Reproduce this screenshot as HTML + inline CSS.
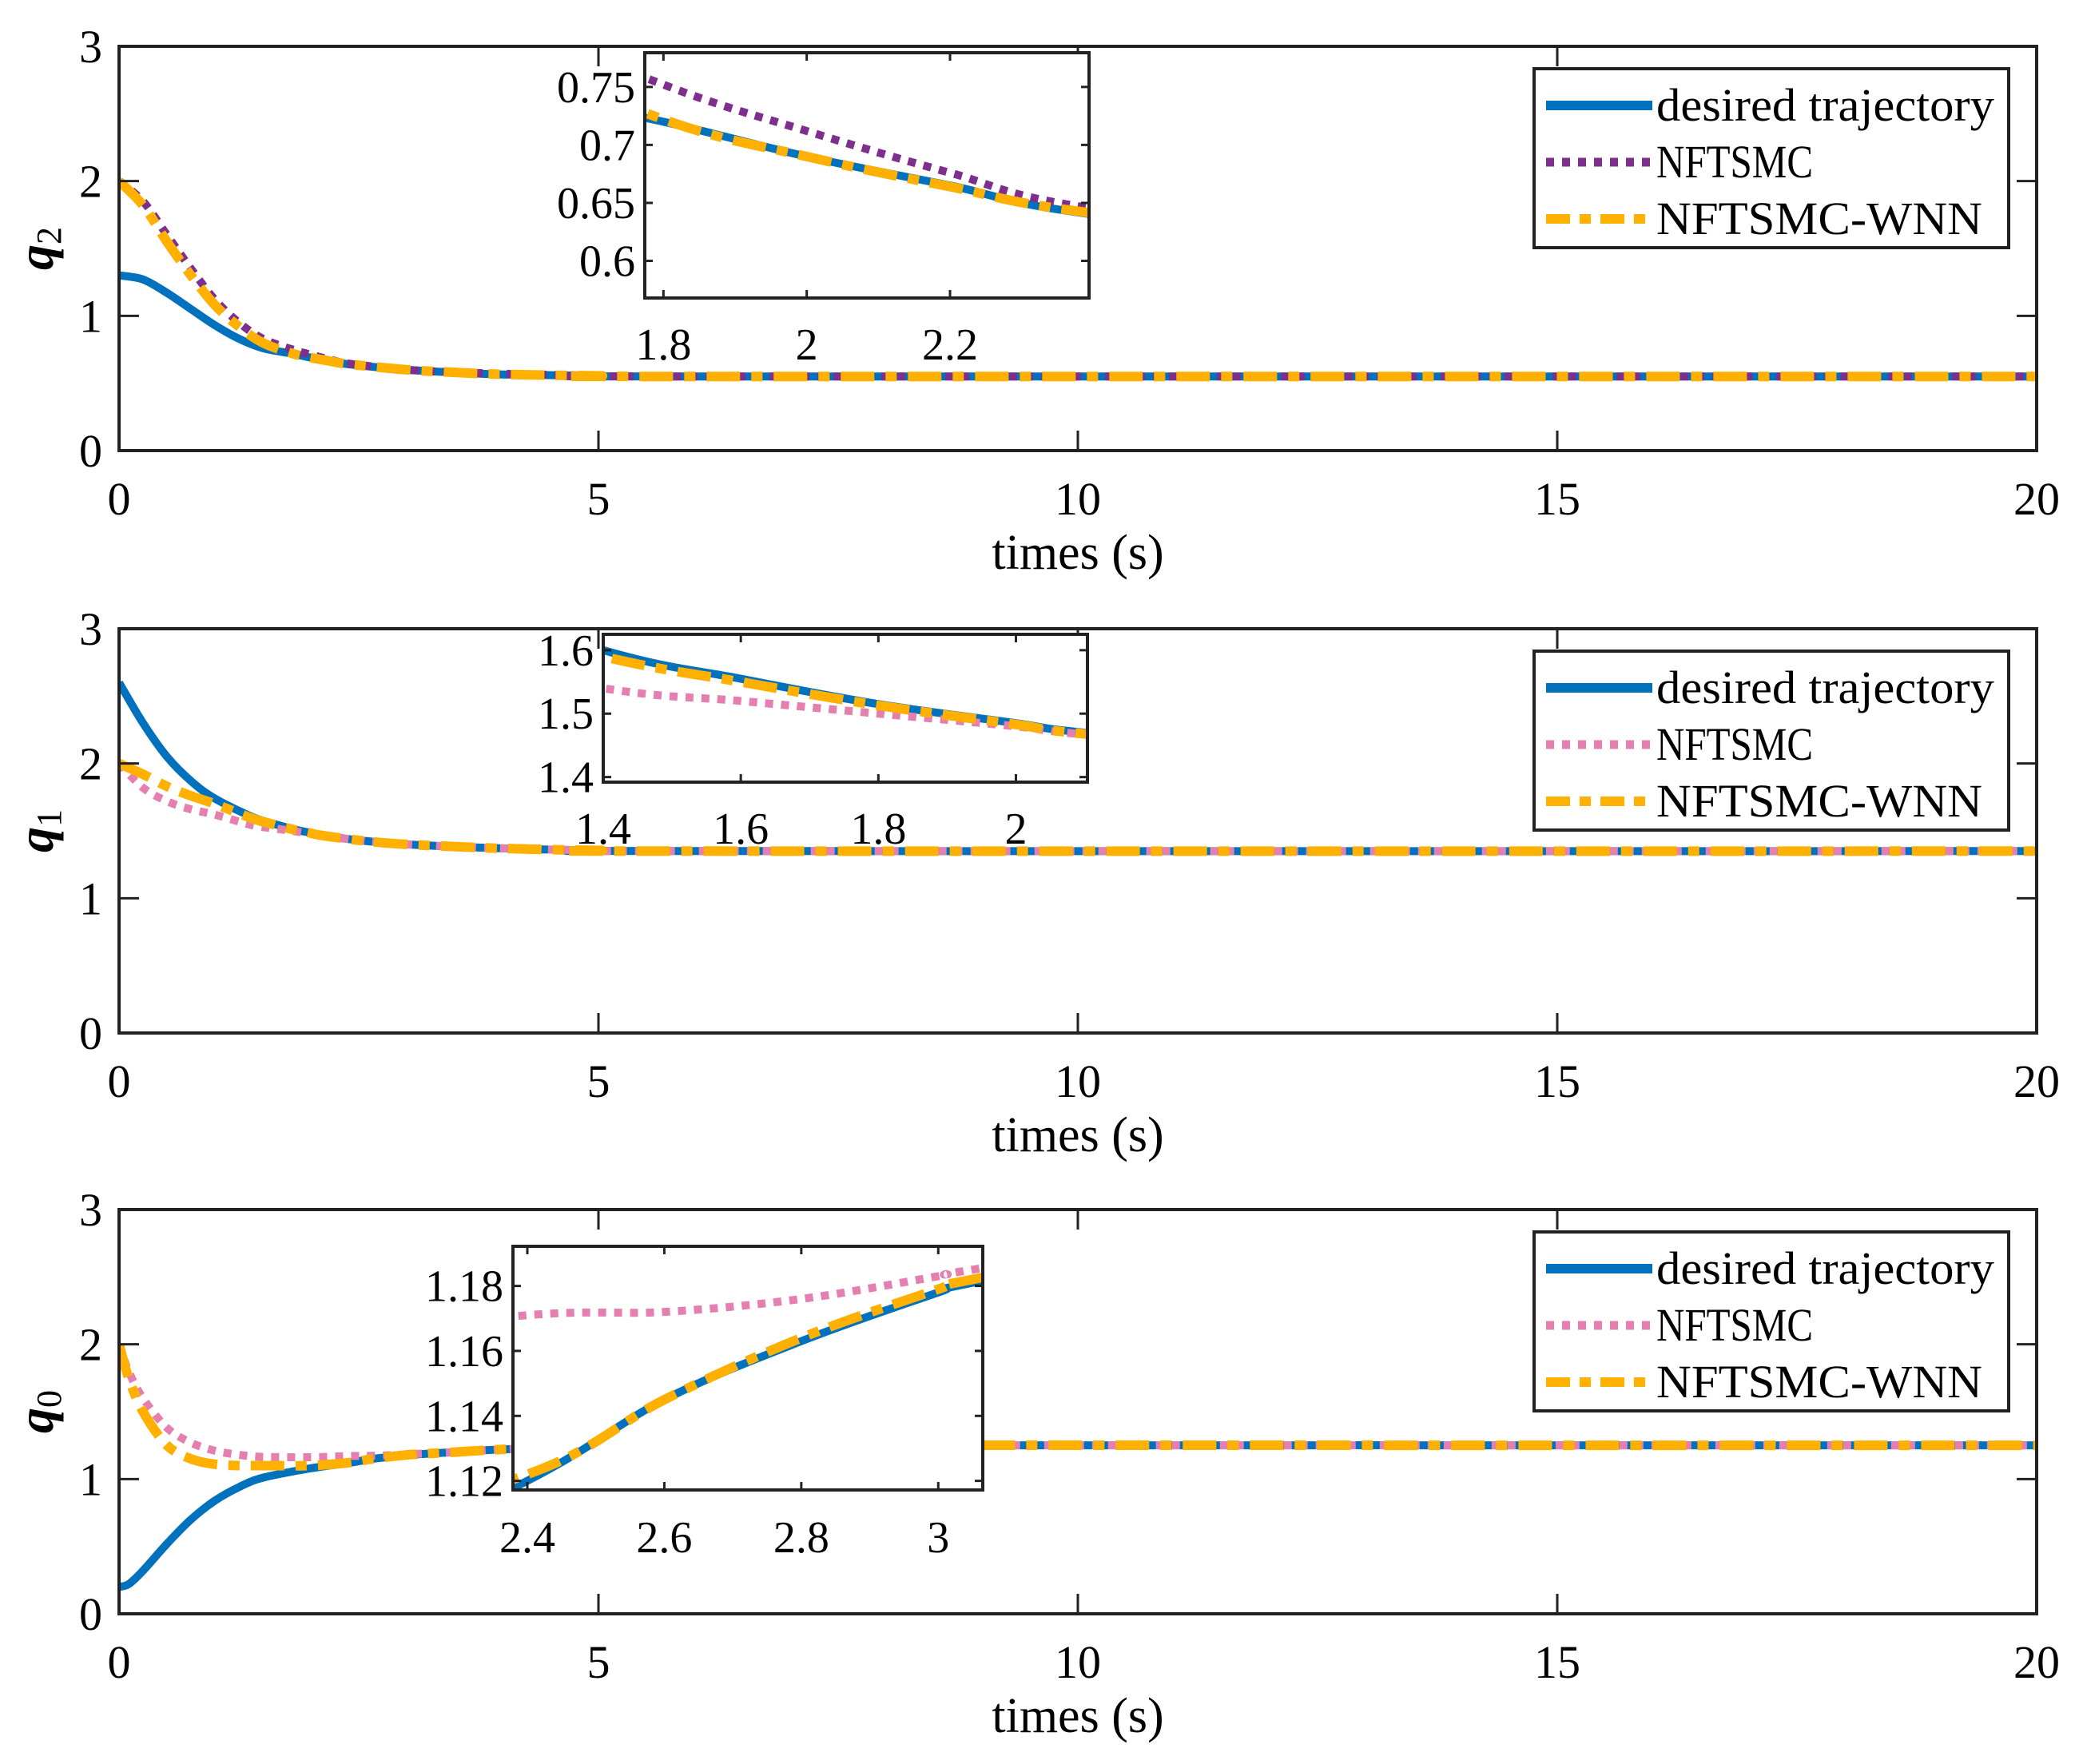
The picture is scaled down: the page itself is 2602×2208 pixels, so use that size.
<!DOCTYPE html>
<html><head><meta charset="utf-8">
<style>
html,body{margin:0;padding:0;background:#fff;width:2602px;height:2208px;overflow:hidden;}
svg{display:block;}
text{font-family:"Liberation Serif",serif;fill:#000;}
</style></head>
<body>
<svg id="fig" width="2602" height="2208" viewBox="0 0 2602 2208" xmlns="http://www.w3.org/2000/svg"></svg>
<script>
// ---------- data ----------
const q2Time = [0,0.25,0.5,0.75,1,1.25,1.5,1.8,2,2.2,2.4,3,3.5,4,5,6,20];
const q2Desired = [1.3,1.27,1.17,1.05,0.93,0.83,0.76,0.72,0.69,0.665,0.64,0.6,0.58,0.565,0.555,0.55,0.55];
const q2Nftsmc = [2.0,1.85,1.6,1.35,1.12,0.95,0.83,0.752,0.712,0.676,0.645,0.6,0.582,0.57,0.556,0.55,0.55];
const q2Wnn = [2.0,1.82,1.55,1.3,1.08,0.92,0.8,0.722,0.69,0.664,0.641,0.6,0.58,0.566,0.555,0.55,0.55];

const q1Time = [0,0.25,0.5,0.75,1,1.4,1.6,1.8,2,2.1,2.5,3,4,5,6,20];
const q1Desired = [2.6,2.3,2.05,1.87,1.74,1.6,1.555,1.515,1.485,1.47,1.43,1.4,1.37,1.355,1.35,1.35];
const q1Nftsmc = [2.0,1.82,1.72,1.66,1.62,1.54,1.52,1.5,1.48,1.467,1.43,1.4,1.37,1.355,1.35,1.35];
const q1Wnn = [2.0,1.92,1.83,1.76,1.7,1.59,1.55,1.513,1.483,1.468,1.43,1.4,1.37,1.355,1.35,1.35];

const q0Time = [0,0.1,0.25,0.5,0.75,1,1.25,1.5,2,2.4,2.6,2.8,3,3.05,3.5,4,5,6,20];
const q0Desired = [0.2,0.22,0.32,0.52,0.7,0.84,0.94,1.01,1.08,1.12,1.145,1.163,1.178,1.181,1.2,1.22,1.24,1.25,1.25];
const q0Nftsmc = [2.0,1.8,1.6,1.38,1.27,1.21,1.18,1.165,1.162,1.171,1.172,1.176,1.183,1.185,1.2,1.22,1.24,1.25,1.25];
const q0Wnn = [2.0,1.75,1.5,1.25,1.15,1.11,1.1,1.1,1.1,1.122,1.145,1.164,1.179,1.182,1.2,1.22,1.24,1.25,1.25];

const mainXTicks = [0,5,10,15,20];
const mainYTicks = [0,1,2,3];
const inset1XTicks = [1.8,2,2.2]; const inset1YTicks = [0.6,0.65,0.7,0.75];
const inset2XTicks = [1.4,1.6,1.8,2]; const inset2YTicks = [1.4,1.5,1.6];
const inset3XTicks = [2.4,2.6,2.8,3]; const inset3YTicks = [1.12,1.14,1.16,1.18];
const legendLabels = ["desired trajectory","NFTSMC","NFTSMC-WNN"];

// ---------- drawing ----------
const NS="http://www.w3.org/2000/svg";
const svg=document.getElementById('fig');
function mk(tag,attrs,parent){const e=document.createElementNS(NS,tag);for(const k in attrs)e.setAttribute(k,attrs[k]);(parent||svg).appendChild(e);return e;}
const BLUE="#0072BD",ORANGE="#FFB000";
let clipId=0;
function pathD(xs,ys,sx,sy){
  const p=xs.map((x,i)=>[sx(x),sy(ys[i])]);
  let d=`M${p[0][0]},${p[0][1]}`;
  for(let i=0;i<p.length-1;i++){
    const p0=p[Math.max(0,i-1)],p1=p[i],p2=p[i+1],p3=p[Math.min(p.length-1,i+2)];
    const c1=[p1[0]+(p2[0]-p0[0])/6,p1[1]+(p2[1]-p0[1])/6];
    const c2=[p2[0]-(p3[0]-p1[0])/6,p2[1]-(p3[1]-p1[1])/6];
    d+=` C${c1[0]},${c1[1]} ${c2[0]},${c2[1]} ${p2[0]},${p2[1]}`;
  }
  return d;
}
function drawSeries(g,t,d,n,w,sx,sy,pink){
  const a=mk('path',{d:pathD(t,d,sx,sy),fill:'none',stroke:BLUE,'stroke-width':10,'stroke-linejoin':'round'},g);
  
  
  const b=mk('path',{d:pathD(t,n,sx,sy),fill:'none',stroke:pink,'stroke-width':10,'stroke-dasharray':'10 10'},g);
  
  
  const c=mk('path',{d:pathD(t,w,sx,sy),fill:'none',stroke:ORANGE,'stroke-width':12,'stroke-dasharray':'42 14 14 14'},g);
  
  
}
function panel(o){
  const g=mk('g',{});
  
  
  const L=149,R=2549,T=o.top,B=o.top+506;
  const sx=v=>L+(v-0)/(20-0)*(R-L);
  const sy=v=>B-(v-0)/(3-0)*(B-T);
  const id='c'+(clipId++);
  const cp=mk('clipPath',{id},g);mk('rect',{x:L,y:T,width:R-L,height:B-T},cp);
  const sg=mk('g',{'clip-path':`url(#${id})`},g);
  drawSeries(sg,o.t,o.d,o.n,o.w,sx,sy,o.pink);
  mk('rect',{x:L,y:T,width:R-L,height:B-T,fill:'none',stroke:'#222','stroke-width':4},g);
  mainXTicks.forEach(v=>{
    mk('line',{x1:sx(v),x2:sx(v),y1:B,y2:B-25,stroke:'#222','stroke-width':3},g);
    mk('line',{x1:sx(v),x2:sx(v),y1:T,y2:T+25,stroke:'#222','stroke-width':3},g);
    const tx=mk('text',{x:sx(v),y:B+80,'font-size':58,'text-anchor':'middle'},g);tx.textContent=v;
    
    
  });
  mainYTicks.forEach(v=>{
    mk('line',{x1:L,x2:L+25,y1:sy(v),y2:sy(v),stroke:'#222','stroke-width':3},g);
    mk('line',{x1:R,x2:R-25,y1:sy(v),y2:sy(v),stroke:'#222','stroke-width':3},g);
    const tx=mk('text',{x:128,y:sy(v)+20,'font-size':58,'text-anchor':'end'},g);tx.textContent=v;
    
    
  });
  const xl=mk('text',{x:1349,y:B+148,'font-size':62,'text-anchor':'middle'},g);xl.textContent='times (s)';
  
  
  const yl=mk('text',{x:0,y:0,'font-size':64,'font-style':'italic','font-weight':'bold','text-anchor':'middle',transform:`translate(66,${(T+B)/2}) rotate(-90)`},g);
  yl.textContent=o.label;const sub=mk('tspan',{'font-size':44,dy:10,'font-style':'normal','font-weight':'normal'},yl);sub.textContent=o.sub;
  
  
  // inset
  const I=o.inset;
  const ig=mk('g',{},g);
  
  
  const isx=v=>I.x0+(v-I.xmin)/(I.xmax-I.xmin)*(I.x1-I.x0);
  const isy=v=>I.y1-(v-I.ymin)/(I.ymax-I.ymin)*(I.y1-I.y0);
  mk('rect',{x:I.x0,y:I.y0,width:I.x1-I.x0,height:I.y1-I.y0,fill:'#fff'},ig);
  const id2='c'+(clipId++);
  const cp2=mk('clipPath',{id:id2},ig);mk('rect',{x:I.x0,y:I.y0,width:I.x1-I.x0,height:I.y1-I.y0},cp2);
  const ig2=mk('g',{'clip-path':`url(#${id2})`},ig);
  drawSeries(ig2,o.t,o.d,o.n,o.w,isx,isy,o.pink);
  mk('rect',{x:I.x0,y:I.y0,width:I.x1-I.x0,height:I.y1-I.y0,fill:'none',stroke:'#222','stroke-width':4},ig);
  I.xt.forEach(v=>{
    mk('line',{x1:isx(v),x2:isx(v),y1:I.y1,y2:I.y1-10,stroke:'#222','stroke-width':3},ig);
    mk('line',{x1:isx(v),x2:isx(v),y1:I.y0,y2:I.y0+10,stroke:'#222','stroke-width':3},ig);
    const tx=mk('text',{x:isx(v),y:I.lx,'font-size':56,'text-anchor':'middle'},ig);tx.textContent=v;
    
    
  });
  I.yt.forEach(v=>{
    mk('line',{x1:I.x0,x2:I.x0+10,y1:isy(v),y2:isy(v),stroke:'#222','stroke-width':3},ig);
    mk('line',{x1:I.x1,x2:I.x1-10,y1:isy(v),y2:isy(v),stroke:'#222','stroke-width':3},ig);
    const tx=mk('text',{x:I.x0-12,y:isy(v)+19,'font-size':56,'text-anchor':'end'},ig);tx.textContent=v;
    
    
  });
  // legend
  const lg=mk('g',{},g);
  
  
  const ly=o.top+28;
  mk('rect',{x:1920,y:ly,width:594,height:224,fill:'#fff',stroke:'#222','stroke-width':4},lg);
  const strokes=[[BLUE,12,'none'],[o.pink,11,'10 10'],[ORANGE,12,'30 12 14 12']];
  const lens=[423,196,408];
  legendLabels.forEach((lab,i)=>{
    const yy=ly+46+i*71;
    mk('line',{x1:1935,x2:2068,y1:yy,y2:yy,stroke:strokes[i][0],'stroke-width':strokes[i][1],'stroke-dasharray':strokes[i][2]},lg);
    const tx=mk('text',{x:2073,y:yy+19,'font-size':58,textLength:lens[i],lengthAdjust:'spacingAndGlyphs'},lg);tx.textContent=lab;
    
    
  });
}
panel({name:'q2',label:'q',sub:'2',top:58,t:q2Time,d:q2Desired,n:q2Nftsmc,w:q2Wnn,pink:'#7E2F8E',
  inset:{x0:807,x1:1363,y0:66,y1:373,xmin:1.774,xmax:2.394,ymin:0.568,ymax:0.7795,xt:inset1XTicks,yt:inset1YTicks,lx:450}});
panel({name:'q1',label:'q',sub:'1',top:787,t:q1Time,d:q1Desired,n:q1Nftsmc,w:q1Wnn,pink:'#E57FB0',
  inset:{x0:755,x1:1361,y0:794,y1:979,xmin:1.4,xmax:2.104,ymin:1.392,ymax:1.625,xt:inset2XTicks,yt:inset2YTicks,lx:1056}});
panel({name:'q0',label:'q',sub:'0',top:1514,t:q0Time,d:q0Desired,n:q0Nftsmc,w:q0Wnn,pink:'#E57FB0',
  inset:{x0:642,x1:1230,y0:1560,y1:1865,xmin:2.379,xmax:3.065,ymin:1.1172,ymax:1.1922,xt:inset3XTicks,yt:inset3YTicks,lx:1943}});
</script>
</body></html>
